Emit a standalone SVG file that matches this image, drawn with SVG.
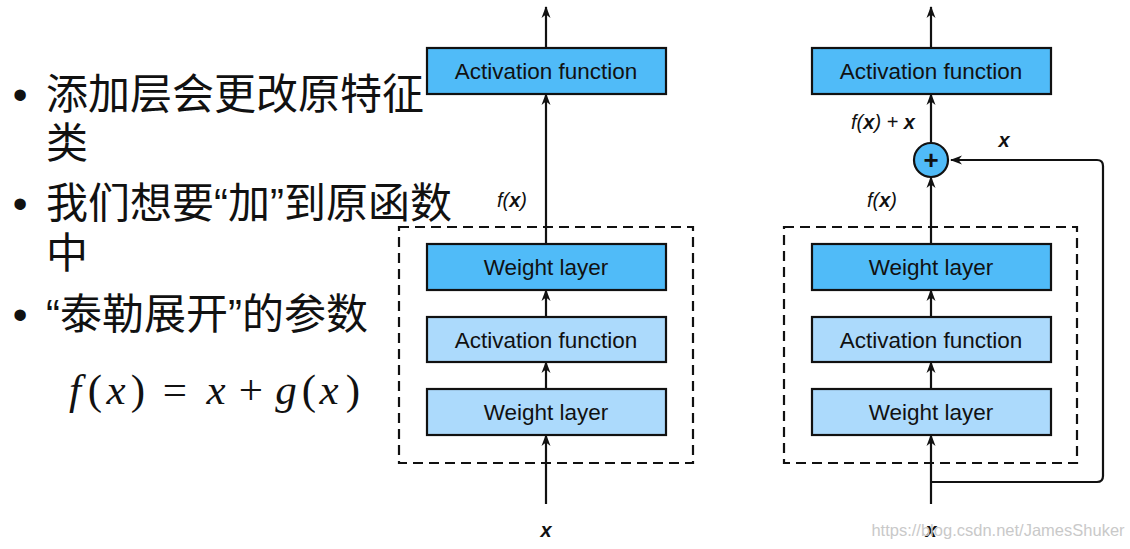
<svg xmlns="http://www.w3.org/2000/svg" width="1130" height="549" viewBox="0 0 1130 549">
<style>
.bx{stroke:#111;stroke-width:2.2}
.dk{fill:#50bbf8}
.lt{fill:#acdafc}
.bt{font-family:"Liberation Sans",Arial,sans-serif;font-size:22.5px;fill:#111;text-anchor:middle}
.lb{font-family:"Liberation Sans",Arial,sans-serif;font-size:20px;fill:#111;font-style:italic}
.bi{font-weight:bold}
.cn{font-family:"Noto Sans CJK SC",sans-serif;font-size:42px;fill:#111}
.q{font-family:"Liberation Sans",Arial,sans-serif}
.bul{font-family:"Liberation Sans",Arial,sans-serif;font-size:42px;fill:#111;text-anchor:middle}
.m{font-family:"Liberation Serif","Times New Roman",serif;font-size:43px;fill:#111;text-anchor:middle}
.mi{font-style:italic}
.ln{stroke:#111;stroke-width:2.2;fill:none}
.dash{stroke:#111;stroke-width:2.2;fill:none;stroke-dasharray:10 6}
</style>
<defs>
<marker id="ah" viewBox="0 0 12 10" refX="11" refY="5" markerWidth="12" markerHeight="10" markerUnits="userSpaceOnUse" orient="auto">
<path d="M0,0.5 L12,5 L0,9.5 L3.5,5 z" fill="#111"/>
</marker>
</defs>
<rect width="1130" height="549" fill="#fff"/>

<g id="bullets">
<text class="bul" x="20" y="109">•</text>
<text class="cn" x="46" y="109">添加层会更改原特征</text>
<text class="cn" x="46" y="158">类</text>
<text class="bul" x="20" y="218">•</text>
<text class="cn" x="46" y="218">我们想要<tspan class="q">“</tspan>加<tspan class="q">”</tspan>到原函数</text>
<text class="cn" x="46" y="268">中</text>
<text class="bul" x="20" y="329">•</text>
<text class="cn" x="46" y="329"><tspan class="q">“</tspan>泰勒展开<tspan class="q">”</tspan>的参数</text>
</g>

<g id="formula">
<text class="m mi" x="75" y="404">f</text>
<text class="m" x="95" y="404">(</text>
<text class="m mi" x="116" y="404">x</text>
<text class="m" x="138" y="404">)</text>
<text class="m" x="175" y="404">=</text>
<text class="m mi" x="216" y="404">x</text>
<text class="m" x="251" y="404">+</text>
<text class="m mi" x="286" y="404">g</text>
<text class="m" x="309" y="404">(</text>
<text class="m mi" x="329" y="404">x</text>
<text class="m" x="353" y="404">)</text>
</g>

<g id="connectors">
<line class="ln" x1="546" y1="504" x2="546" y2="435" marker-end="url(#ah)"/>
<line class="ln" x1="546" y1="389" x2="546" y2="362" marker-end="url(#ah)"/>
<line class="ln" x1="546" y1="317" x2="546" y2="290" marker-end="url(#ah)"/>
<line class="ln" x1="546" y1="244" x2="546" y2="94" marker-end="url(#ah)"/>
<line class="ln" x1="546" y1="48" x2="546" y2="7" marker-end="url(#ah)"/>
<line class="ln" x1="931" y1="504" x2="931" y2="435" marker-end="url(#ah)"/>
<line class="ln" x1="931" y1="389" x2="931" y2="362" marker-end="url(#ah)"/>
<line class="ln" x1="931" y1="317" x2="931" y2="290" marker-end="url(#ah)"/>
<line class="ln" x1="931" y1="244" x2="931" y2="177" marker-end="url(#ah)"/>
<line class="ln" x1="931" y1="143" x2="931" y2="94" marker-end="url(#ah)"/>
<line class="ln" x1="931" y1="48" x2="931" y2="7" marker-end="url(#ah)"/>
<path class="ln" d="M931,482 H1097 Q1103,482 1103,476 V166 Q1103,160 1097,160 H951" marker-end="url(#ah)"/>
</g>

<g id="left-block">
<rect class="dash" x="399" y="227" width="294" height="236"/>
</g>
<g id="right-block">
<rect class="dash" x="784" y="227" width="293" height="236"/>
</g>

<g id="l-act-top"><rect class="bx dk" x="427" y="48" width="239" height="46"/><text class="bt" x="546" y="79">Activation function</text></g>
<g id="l-weight2"><rect class="bx dk" x="427" y="244" width="239" height="46"/><text class="bt" x="546" y="275">Weight layer</text></g>
<g id="l-act"><rect class="bx lt" x="427" y="317" width="239" height="45"/><text class="bt" x="546" y="347.5">Activation function</text></g>
<g id="l-weight1"><rect class="bx lt" x="427" y="389" width="239" height="46"/><text class="bt" x="546" y="420">Weight layer</text></g>

<g id="r-act-top"><rect class="bx dk" x="812" y="48" width="239" height="46"/><text class="bt" x="931" y="79">Activation function</text></g>
<g id="r-weight2"><rect class="bx dk" x="812" y="244" width="239" height="46"/><text class="bt" x="931" y="275">Weight layer</text></g>
<g id="r-act"><rect class="bx lt" x="812" y="317" width="239" height="45"/><text class="bt" x="931" y="347.5">Activation function</text></g>
<g id="r-weight1"><rect class="bx lt" x="812" y="389" width="239" height="46"/><text class="bt" x="931" y="420">Weight layer</text></g>

<g id="r-add"><circle class="bx dk" cx="931" cy="160" r="17"/><text x="931" y="168.5" font-family="Liberation Sans,Arial,sans-serif" font-size="26" font-weight="bold" fill="#111" text-anchor="middle">+</text></g>

<g id="labels">
<text class="lb" x="512" y="207" text-anchor="middle">f(<tspan class="bi">x</tspan>)</text>
<text class="lb bi" x="546" y="537" font-size="22" text-anchor="middle">x</text>
<text class="lb" x="882" y="207" text-anchor="middle">f(<tspan class="bi">x</tspan>)</text>
<text class="lb" x="883" y="129" text-anchor="middle">f(<tspan class="bi">x</tspan>) + <tspan class="bi">x</tspan></text>
<text class="lb bi" x="1004" y="147" text-anchor="middle">x</text>
<text class="lb bi" x="931" y="537" font-size="22" text-anchor="middle">x</text>
<text x="998" y="536" font-family="Liberation Sans,Arial,sans-serif" font-size="16.5" fill="#c9c9c9" text-anchor="middle">https://blog.csdn.net/JamesShuker</text>
</g>
</svg>
